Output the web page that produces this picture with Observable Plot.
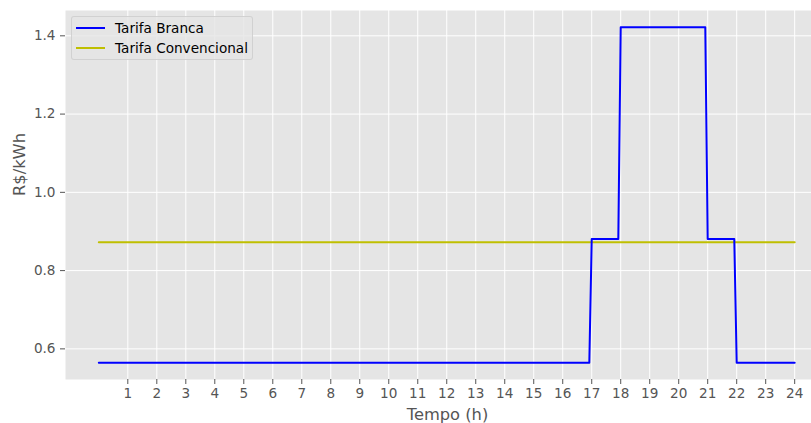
<!DOCTYPE html>
<html>
<head>
<meta charset="utf-8">
<script src="https://cdn.jsdelivr.net/npm/d3@7"></script>
<script src="https://cdn.jsdelivr.net/npm/@observablehq/plot@0.6"></script>
<style>
  html, body { margin: 0; padding: 0; background: #ffffff; }
  #wrap { position: relative; width: 811px; height: 423px; font-family: "DejaVu Sans", sans-serif; }
  #legend { position: absolute; left: 71px; top: 16px; width: 182px; height: 44px;
    background: rgba(229,229,229,0.8); border: 1px solid rgba(204,204,204,0.8); border-radius: 3px;
    box-sizing: border-box; font-size: 13.6px; color: #000; }
  .row { position: absolute; left: 4px; height: 16px; display: flex; align-items: center; }
  .sw { width: 29px; height: 2px; margin-right: 10px; }
</style>
</head>
<body>
<div id="wrap"></div>
<script>
// Hours of the breakpoints of the "Tarifa Branca" step curve (5-minute samples)
const brancaHours = [0, 16.9167, 17, 17.9167, 18, 20.9167, 21, 21.9167, 22, 24];
const brancaValues = [0.5646, 0.5646, 0.8805, 0.8805, 1.4218, 1.4218, 0.8805, 0.8805, 0.5646, 0.5646];
const convHours = [0, 24];
const convValues = [0.8725, 0.8725];
const xTicks = [1,2,3,4,5,6,7,8,9,10,11,12,13,14,15,16,17,18,19,20,21,22,23,24];
const yTicks = [0.6, 0.8, 1.0, 1.2, 1.4];
const seriesNames = ["Tarifa Branca", "Tarifa Convencional"];
const seriesColors = ["#0000FF", "#BFBF00"];

const branca = brancaHours.map((h, i) => ({h, v: brancaValues[i]}));
const conv = convHours.map((h, i) => ({h, v: convValues[i]}));

const chart = Plot.plot({
  width: 811,
  height: 423,
  marginLeft: 65,
  marginRight: 0,
  marginTop: 10,
  marginBottom: 44,
  style: {fontFamily: "DejaVu Sans, sans-serif", fontSize: "13.6px", background: "#ffffff"},
  x: {domain: [-1.149, 24.58]},
  y: {domain: [0.5217, 1.4647]},
  marks: [
    Plot.frame({fill: "#E5E5E5", stroke: null}),
    Plot.gridX(xTicks, {stroke: "#ffffff", strokeOpacity: 1, strokeWidth: 1}),
    Plot.gridY(yTicks, {stroke: "#ffffff", strokeOpacity: 1, strokeWidth: 1}),
    Plot.axisX(xTicks, {tickSize: 5, tickPadding: 4, stroke: "#555555", fill: "#555555", fontSize: 13.6, label: null, tickFormat: d => String(d)}),
    Plot.axisY(yTicks, {tickSize: 5, tickPadding: 5, stroke: "#555555", fill: "#555555", fontSize: 13.6, label: null, tickFormat: d3.format(".1f")}),
    Plot.line(conv, {x: "h", y: "v", stroke: seriesColors[1], strokeWidth: 2}),
    Plot.line(branca, {x: "h", y: "v", stroke: seriesColors[0], strokeWidth: 2}),
    Plot.text(["Tempo (h)"], {frameAnchor: "bottom", dx: 9, dy: 40, text: d => d, fill: "#555555", fontSize: 16.3, lineAnchor: "bottom"}),
    Plot.text(["R$/kWh"], {frameAnchor: "left", dx: -46, dy: 1, rotate: -90, text: d => d, fill: "#555555", fontSize: 16.3})
  ]
});

const wrap = document.getElementById("wrap");
wrap.appendChild(chart);
const legend = document.createElement("div");
legend.id = "legend";
seriesNames.forEach((name, i) => {
  const row = document.createElement("div");
  row.className = "row";
  row.style.top = (3 + i * 20) + "px";
  const sw = document.createElement("div");
  sw.className = "sw";
  sw.style.background = seriesColors[i];
  const t = document.createElement("span");
  t.textContent = name;
  row.appendChild(sw);
  row.appendChild(t);
  legend.appendChild(row);
});
wrap.appendChild(legend);
</script>
</body>
</html>
